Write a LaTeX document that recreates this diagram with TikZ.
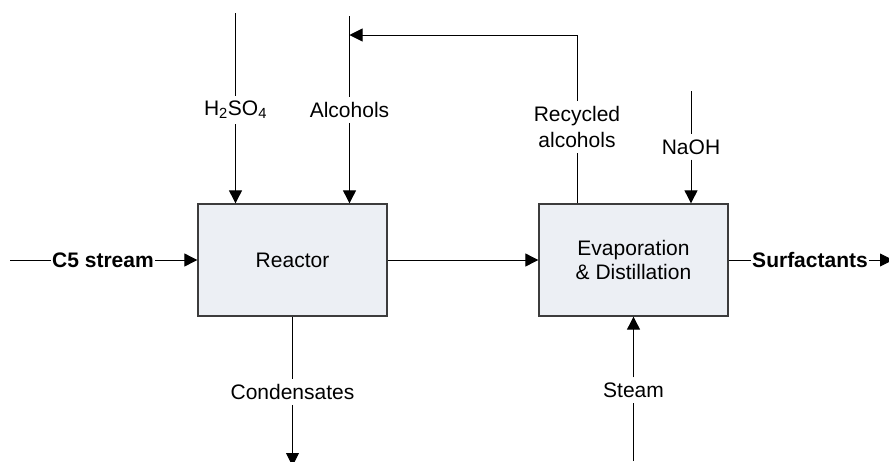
\documentclass[tikz,border=0pt]{standalone}
\usepackage{fontspec}
\setmainfont{Liberation Sans}
\usetikzlibrary{arrows.meta}
\definecolor{boxfill}{RGB}{236,239,244}
\definecolor{boxline}{RGB}{60,60,60}
\begin{document}
\begin{tikzpicture}[x=1pt,y=-1pt,
  unit/.style={draw=boxline, line width=1.3pt, fill=boxfill, minimum width=189pt,
    minimum height=112pt, inner sep=0pt, align=center,
    font=\fontsize{21}{24}\selectfont},
  flow/.style={draw=black, line width=0.9pt, -{Triangle[length=13pt,width=13pt]}},
  pipe/.style={draw=black, line width=0.9pt},
  lbl/.style={fill=white, inner xsep=1.5pt, inner ysep=5pt, align=center,
    font=\fontsize{21}{26}\selectfont},
  blbl/.style={lbl, font=\fontsize{21}{26}\selectfont\bfseries}]
\useasboundingbox (0,0) rectangle (889,461);
\clip (0,0) rectangle (889,461);

% process units
\node[unit] (reactor) at (292.5,260) {Reactor};
\node[unit] (evap) at (633.5,260) {Evaporation\\\& Distillation};

% free ends of the streams
\coordinate (c5in)   at (10,260);
\coordinate (h2in)   at (235.5,13);
\coordinate (alin)   at (349.5,16);
\coordinate (rcturn) at (577,35);
\coordinate (nain)   at (691,91);
\coordinate (condout) at (292.5,466);
\coordinate (stin)   at (633.5,461);
\coordinate (surfout) at (893,260);

% stream labels
\node[blbl] (c5)   at (103,260) {C5 stream};
\node[lbl]  (h2)   at (235.5,110) {H\textsubscript{2}SO\textsubscript{4}};
\node[lbl]  (al)   at (349.5,110) {Alcohols};
\node[lbl]  (rec)  at (577,127) {Recycled\\alcohols};
\node[lbl]  (na)   at (691,147) {NaOH};
\node[lbl]  (cond) at (292.5,392) {Condensates};
\node[lbl]  (steam) at (633.5,390) {Steam};
\node[blbl] (surf) at (810,260) {Surfactants};

% feed to reactor
\draw[pipe] (c5in) -- (c5);
\draw[flow] (c5) -- (reactor);
\draw[pipe] (h2in) -- (h2);
\draw[flow] (h2) -- (h2 |- reactor.north);
\draw[pipe] (alin) -- (al);
\draw[flow] (al) -- (al |- reactor.north);

% reactor to evaporation
\draw[flow] (reactor) -- (evap);

% condensates out
\draw[pipe] (reactor) -- (cond);
\draw[flow] (cond) -- (condout);

% alcohol recycle
\draw[pipe] (rec |- evap.north) -- (rec);
\draw[flow] (rec) -- (rcturn) -- (rcturn -| al);

% NaOH and steam
\draw[pipe] (nain) -- (na);
\draw[flow] (na) -- (na |- evap.north);
\draw[pipe] (stin) -- (steam);
\draw[flow] (steam) -- (evap);

% product
\draw[pipe] (evap) -- (surf);
\draw[flow] (surf) -- (surfout);
\end{tikzpicture}
\end{document}
